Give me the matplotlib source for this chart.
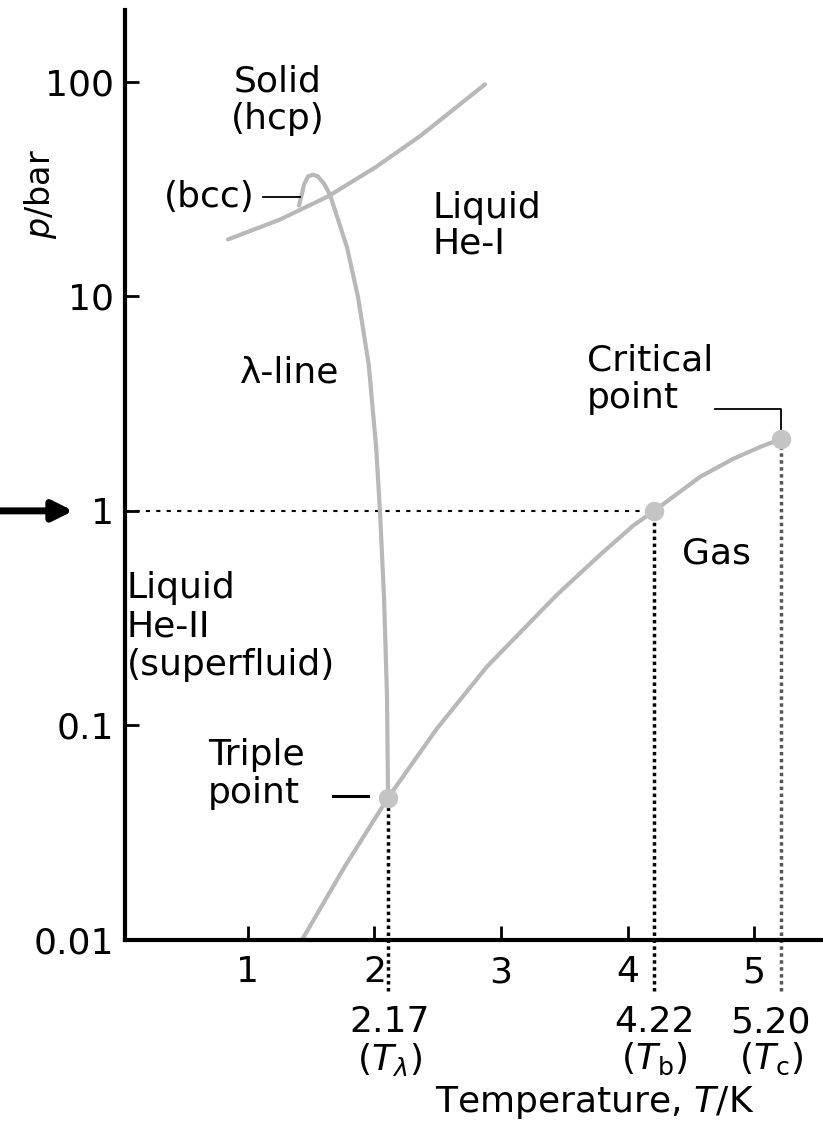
import matplotlib
matplotlib.use("Agg")
import matplotlib.pyplot as plt

plt.rcParams['font.family'] = ['DejaVu Sans']
plt.rcParams['mathtext.fontset'] = 'dejavusans'

# ---- data ----
vap_T = [1.435, 1.767, 2.107, 2.494, 2.889, 3.443, 3.783, 4.043, 4.21, 4.573, 4.834, 5.047, 5.21]
vap_p = [0.0102, 0.0221, 0.046, 0.0968, 0.188, 0.407, 0.624, 0.852, 1.0, 1.44, 1.746, 1.985, 2.16]

lam_T = [2.107, 2.099, 2.075, 2.043, 2.013, 1.954, 1.870, 1.783, 1.648, 1.601, 1.553, 1.514,
         1.474, 1.443, 1.427, 1.403]
lam_p = [0.046, 0.136, 0.40, 1.0, 1.985, 4.83, 9.9, 16.9, 29.8, 33.5, 36.2, 36.9,
         36.2, 33.2, 30.1, 26.5]

melt_T = [0.842, 1.253, 1.632, 2.004, 2.36, 2.874]
melt_p = [18.4, 22.8, 29.2, 39.8, 55.8, 97.3]

point_T = [2.107, 4.21, 5.21]          # triple point, boiling point, critical point
point_p = [0.046, 1.0, 2.16]
point_labels = ["2.17\n($T_\\lambda$)", "4.22\n($T_\\mathrm{b}$)", "5.20\n($T_\\mathrm{c}$)"]
label_T = [2.12, 4.21, 5.13]

xticks = [1, 2, 3, 4, 5]
yticks = [0.01, 0.1, 1, 10, 100]
ytick_labels = ["0.01", "0.1", "1", "10", "100"]

GRAY = '#b8b8b8'
FS = 26

fig = plt.figure(figsize=(8.23, 11.28), dpi=100)
ax = fig.add_axes([125/823, 188/1128, 698/823, 930/1128])
ax.set_yscale('log')
ax.set_xlim(0.028, 5.545)
ax.set_ylim(0.0102, 216)

for s in ['top', 'right']:
    ax.spines[s].set_visible(False)
for s in ['left', 'bottom']:
    ax.spines[s].set_linewidth(3)

ax.set_xticks(xticks)
ax.set_xticklabels([str(t) for t in xticks])
ax.set_yticks(yticks)
ax.set_yticklabels(ytick_labels)
ax.minorticks_off()
ax.tick_params(axis='both', direction='in', length=10, width=2, labelsize=FS)
ax.tick_params(axis='y', pad=8)
ax.tick_params(axis='x', pad=11)

# phase boundaries
kw = dict(color=GRAY, lw=3, solid_capstyle='round', solid_joinstyle='round')
ax.plot(melt_T, melt_p, **kw)
ax.plot(lam_T, lam_p, **kw)
ax.plot(vap_T, vap_p, **kw)

# dotted reference lines
ax.plot([0.028, point_T[1]], [1, 1], color='black', lw=1.5, ls=(0, (2, 3)), zorder=1)
ax.plot([point_T[0], point_T[0]], [0.0058, point_p[0]], color='black', lw=2.5,
        ls=(0, (1, 1)), clip_on=False, zorder=1)
ax.plot([point_T[1], point_T[1]], [0.0058, point_p[1]], color='black', lw=2.5,
        ls=(0, (1, 1)), clip_on=False, zorder=1)
ax.plot([point_T[2], point_T[2]], [0.0058, point_p[2]], color='#555555', lw=2.5,
        ls=(0, (1, 1)), clip_on=False, zorder=1)

# special points
ax.plot(point_T, point_p, 'o', color='#c4c4c4', ms=13, zorder=3)

# labels under the axis
for lt, lab in zip(label_T, point_labels):
    ax.text(lt, -0.07, lab, transform=ax.get_xaxis_transform(), ha='center', va='top',
            fontsize=FS, linespacing=1.05, clip_on=False)

# region labels
ax.text(1.237, 82, "Solid\n(hcp)", ha='center', va='center', fontsize=FS, linespacing=1.15)
ax.text(1.055, 28.9, "(bcc)", ha='right', va='center', fontsize=FS)
ax.plot([1.12, 1.41], [28.9, 28.9], color='black', lw=1.3)
ax.text(2.462, 21.4, "Liquid\nHe-I", ha='left', va='center', fontsize=FS, linespacing=1.05)
ax.text(0.937, 4.43, "λ-line", ha='left', va='center', fontsize=FS)
ax.text(3.68, 4.11, "Critical\npoint", ha='left', va='center', fontsize=FS, linespacing=1.1)
ax.plot([4.69, 5.21, 5.21], [2.98, 2.98, 2.36], color='black', lw=1.3)
ax.text(4.43, 0.63, "Gas", ha='left', va='center', fontsize=FS)
ax.text(0.04, 0.289, "Liquid\nHe-II\n(superfluid)", ha='left', va='center', fontsize=FS,
        linespacing=1.15)
ax.text(0.684, 0.0592, "Triple\npoint", ha='left', va='center', fontsize=FS, linespacing=1.15)
ax.plot([1.67, 1.95], [0.0467, 0.0467], color='black', lw=2.2)

# axis labels
ax.set_ylabel("$p$/bar", fontsize=24)
ax.yaxis.set_label_coords(-0.095, 0.802)
ax.set_xlabel("Temperature, $T$/K", fontsize=FS)
ax.xaxis.set_label_coords(0.673, -0.155)

# arrow pointing at 1 bar
ax.annotate("", xy=(0.089, 1), xycoords=('figure fraction', 'data'),
            xytext=(0.0, 1), textcoords=('figure fraction', 'data'),
            arrowprops=dict(arrowstyle='-|>,head_length=1.2,head_width=0.6',
                            color='black', lw=5, shrinkA=0, shrinkB=0),
            annotation_clip=False)

fig.savefig("out.png", dpi=100)
